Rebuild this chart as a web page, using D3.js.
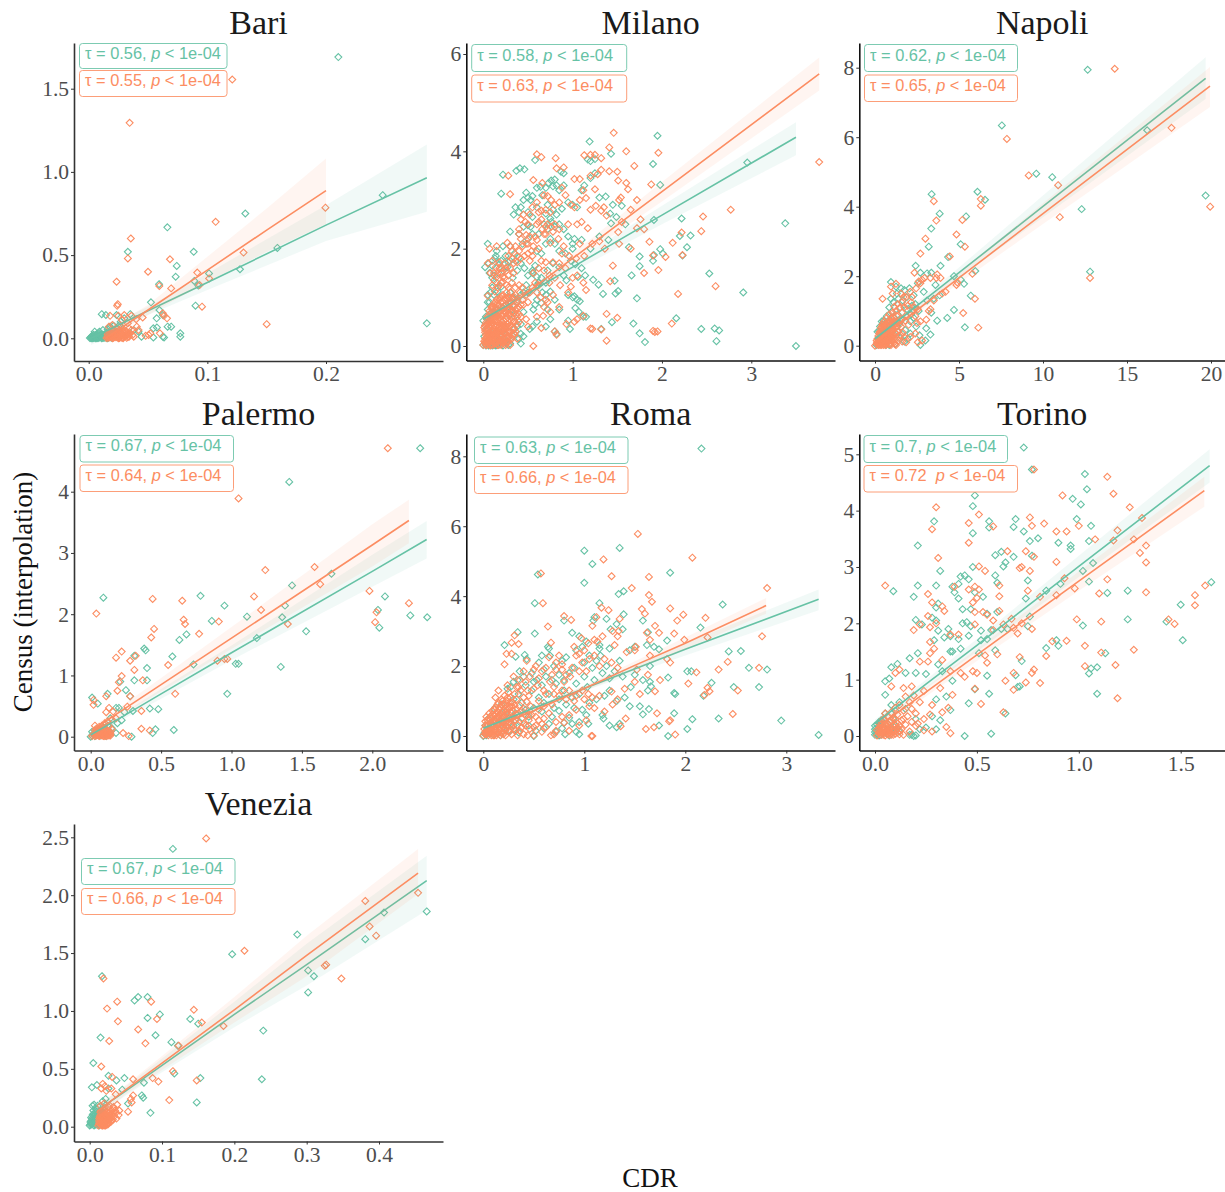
<!DOCTYPE html>
<html>
<head>
<meta charset="utf-8">
<script src="https://cdn.jsdelivr.net/npm/d3@7"></script>
<style>
  html, body { margin: 0; padding: 0; background: #fff; }
  .tick text { font-family: "Liberation Serif", serif; font-size: 21.5px; fill: #4d4d4d; }
  .tick line { stroke: #333; }
</style>
</head>
<body>
<div id="chart"></div>
<script>
const cityNames = ["Bari", "Milano", "Napoli", "Palermo", "Roma", "Torino", "Venezia"]
const tealStats = ["0.56,", "0.58,", "0.62,", "0.67,", "0.63,", "0.7,", "0.67,"]
const orangeStats = ["0.55,", "0.63,", "0.65,", "0.64,", "0.66,", "0.72 ", "0.66,"]

const xTickValues = [[0, .1, .2], [0, 1, 2, 3], [0, 5, 10, 15, 20], [0, .5, 1, 1.5, 2], [0, 1, 2, 3], [0, .5, 1, 1.5], [0, .1, .2, .3, .4]]
const yTickValues = [[0, .5, 1, 1.5], [0, 2, 4, 6], [0, 2, 4, 6, 8], [0, 1, 2, 3, 4], [0, 2, 4, 6, 8], [0, 1, 2, 3, 4, 5], [0, .5, 1, 1.5, 2, 2.5]]

// fitted lines: x, y, band low, band high
const bariTealFit = [[.002,0,-.04,.03],[.05,.165,.14,.19],[.1,.335,.29,.39],[.2,.68,.585,.8],[.285,.965,.76,1.165]]
const bariOrangeFit = [[.014,0,-.01,.05],[.05,.17,.14,.2],[.1,.41,.34,.49],[.15,.65,.52,.78],[.2,.887,.687,1.08]]
const milanoTealFit = [[0,.55,.45,.65],[.5,1.08,1,1.17],[1,1.62,1.52,1.72],[2,2.69,2.5,2.88],[3.5,4.29,3.92,4.6]]
const milanoOrangeFit = [[.02,.45,.35,.55],[.5,1.11,1.03,1.19],[1,1.8,1.7,1.9],[2,3.17,2.97,3.37],[3.76,5.59,5.25,5.93]]
const napoliTealFit = [[0,.2,.12,.28],[2,.96,.88,1.05],[5,2.1,1.95,2.25],[10,4.01,3.7,4.32],[19.68,7.69,7.1,8.3]]
const napoliOrangeFit = [[0,.1,.03,.17],[2,.84,.76,.92],[5,1.95,1.8,2.1],[10,3.8,3.5,4.1],[19.94,7.47,6.87,8.02]]
const palermoTealFit = [[0,.03,0,.07],[.25,.36,.31,.41],[.5,.7,.62,.78],[1,1.37,1.25,1.49],[2,2.7,2.45,2.97],[2.386,3.22,2.91,3.52]]
const palermoOrangeFit = [[.005,.1,.05,.15],[.25,.47,.39,.55],[.5,.85,.74,.96],[1,1.61,1.43,1.79],[2,3.13,2.78,3.47],[2.26,3.53,3.16,3.87]]
const romaTealFit = [[0,.22,.15,.29],[.5,.8,.74,.86],[1,1.36,1.29,1.43],[2,2.48,2.3,2.66],[3.32,3.91,3.6,4.19]]
const romaOrangeFit = [[0,.12,.06,.18],[.5,.72,.66,.78],[1,1.36,1.28,1.44],[1.5,2.02,1.9,2.14],[2,2.65,2.48,2.82],[2.8,3.73,3.5,3.95]]
const torinoTealFit = [[0,.22,.15,.29],[.25,.92,.84,1],[.5,1.61,1.5,1.72],[1,3.01,2.82,3.2],[1.642,4.8,4.5,5.09]]
const torinoOrangeFit = [[.005,.14,.08,.2],[.25,.78,.7,.86],[.5,1.44,1.33,1.55],[1,2.75,2.58,2.92],[1.616,4.355,4.07,4.6]]
const veneziaTealFit = [[.001,.1,.05,.15],[.05,.31,.27,.35],[.1,.53,.47,.59],[.2,.97,.86,1.08],[.3,1.4,1.22,1.58],[.466,2.126,1.87,2.34]]
const veneziaOrangeFit = [[.01,.13,.08,.18],[.05,.32,.28,.36],[.1,.55,.49,.61],[.2,1.01,.9,1.12],[.3,1.48,1.3,1.65],[.454,2.19,2.01,2.4]]

// points
const bariTeal = [[.2104,1.69],[.2478,.86],[.285,.09],[.132,.75],[.159,.543],[.1275,.415],[.0663,.667],[.0885,.52],[.033,.52],[.0742,.435],[.0733,.37],[.1014,.39],[.089,.345],[.0593,.325],[.0924,.317],[.09,.196],[.0525,.216],[.0596,.17],[.0573,.12],[.0625,.14],[.0665,.07],[.0695,.07],[.0772,.03],[.0772,.01],[.0575,.065],[.0545,.06],[.0445,.01],[.0545,.005],[.0625,.01],[.0635,.005],[.011,.145],[.0145,.14],[.0235,.14],[.035,.145],[.03,.12],[.027,.1],[.038,.05],[.042,.04],[.035,.03],
[.001,.002],[.002,.008],[.003,.001],[.004,.012],[.005,.004],[.006,.02],[.007,.008],[.008,.002],[.009,.016],[.01,.006],[.011,.024],[.012,.01],[.013,.003],[.014,.018],[.015,.034],[.016,.008],[.017,.026],[.018,.012],[.019,.004],[.02,.03],[.005,.04],[.009,.04],[.012,.05],[.016,.055],[.003,.016],[.007,.026],[.011,.001],[.015,.002],[.006,.001],[.002,.001],[.004,.022],[.008,.03],[.02,.05],[.022,.02],[.024,.04],[.025,.01],[.018,.07],[.021,.075],[.026,.08],
[.002,.003],[.003,.009],[.004,.002],[.005,.015],[.006,.006],[.007,.001],[.008,.012],[.009,.005],[.01,.018],[.011,.009],[.012,.002],[.013,.02],[.014,.007],[.015,.014],[.016,.001],[.017,.006],[.018,.022]]
const bariOrange = [[.121,1.555],[.0345,1.295],[.0355,.6],[.107,.7],[.1995,.785],[.1305,.515],[.0685,.475],[.033,.48],[.05,.4],[.0915,.395],[.0595,.315],[.0935,.32],[.1015,.36],[.0695,.3],[.0235,.34],[.0955,.19],[.0245,.205],[.024,.195],[.15,.085],[.0625,.15],[.0635,.135],[.066,.12],[.0455,.125],[.036,.135],[.03,.14],[.025,.135],[.018,.135],[.04,.115],[.052,.03],[.0505,.02],[.048,.015],[.06,.03],[.0405,.07],[.038,.01],[.042,.05],[.036,.05],[.033,.09],[.028,.11],[.02,.08],[.017,.07],
[.015,.002],[.016,.012],[.017,.004],[.018,.02],[.019,.008],[.02,.001],[.021,.016],[.022,.03],[.023,.006],[.024,.024],[.025,.012],[.026,.002],[.027,.036],[.028,.018],[.029,.006],[.03,.028],[.031,.014],[.032,.003],[.033,.022],[.034,.01],[.018,.034],[.02,.044],[.022,.05],[.024,.058],[.026,.05],[.028,.064],[.03,.05],[.032,.04],[.034,.06],[.016,.025],[.019,.028],[.023,.04],[.025,.001],[.029,.001],[.035,.03],[.037,.02],
[.016,.005],[.017,.014],[.018,.008],[.019,.018],[.02,.012],[.021,.004],[.022,.012],[.023,.02],[.024,.008],[.025,.03],[.026,.016],[.027,.008],[.028,.004],[.029,.024],[.03,.012],[.031,.03],[.032,.018],[.033,.008],[.034,.03],[.02,.025],[.023,.03],[.026,.036],[.029,.04]]

const milanoTeal = [[3.5,0],[3.38,2.52],[2.955,3.77],[2.91,1.1],[2.53,1.49],[2.44,.35],[2.59,.36],[2.64,.32],[2.61,.1],[2.16,.57],[1.81,.08],[1.75,.26],[1.68,.46],[1.44,.49],[1.32,.35],[1.95,4.32],[1.19,4.2],[1.43,3.95],[1.9,3.74],[1.98,3.31],[2.22,2.62],[1.91,2.59],[2.32,2.27],[2.2,2.26],[2.28,2.03],[1.98,1.99],[2.01,1.9],[2.23,1.86],[1.9,1.75],[1.91,1.87],[1.75,1.84],[1.75,1.64],[1.63,2.03],[1.66,1.45],[1.72,.98],[1.51,1.13],[1.47,1.34],[1.48,1.08],[1.34,1.07],[1.29,1.26],[1.23,1.36],[1.14,1.45],[1.06,1.42],[1.12,.6],
[.22,3.52],[.2,3.13],[.37,3.6],[.41,3.65],[.46,3.63],[.58,3.82],[.73,3.35],[.76,3.4],[.8,3.42],[.82,3.3],[.78,3.28],[.85,3.2],[.9,3.3],[.9,3.55],[.87,3.58],[.7,3.25],[.6,3.25],[.64,3.27],[.48,3.15],[.5,3.05],[.45,3],[.53,3],[.55,3.08],[.36,2.85],[.42,2.85],[.34,2.7],[.3,2.35],[.4,2.3],[.45,2.45],[.5,2.48],[.72,2.9],[.78,2.8],[.82,2.7],[.88,2.82],[.95,2.95],[1,2.9],[1.05,2.85],[1.1,3.2],[1.13,3.3],[1.2,3.45],[1.25,3.55],[1.2,3.8],[1.17,3.83],[1.25,3.84],[1.3,3.05],[1.37,3.07],[1.45,2.9],[1.42,2.72],[1.49,2.65],[1.43,2.52],[1.55,2.88],[1.59,2.5],[1.4,2.18],[1.3,2.25],[1.2,2],[1.02,2.2],[1.1,2.18],[1,2.1],[1,2],[.85,2.5],[.9,2.4],[.8,2.45],[.75,2.2],[.7,2.1],[.65,1.9],[.6,1.95],[.55,2.3],[.53,2.45],[.3,2.05],[.22,2.05],[.25,1.85],
[.05,2.1],[.02,1.62],[.06,1.7],[.07,1.5],[.1,1.65],[.13,1.8],[.15,1.95],[.2,1.75],[.27,1.62],[.3,1.75],[.35,1.9],[.38,1.55],[.42,1.7],[.46,1.6],[.5,1.45],[.55,1.5],[.6,1.42],[.62,1.3],[.66,1.1],[.7,1.05],[.75,1.12],[.8,.95],[.72,.75],[.65,.88],[.6,.95],[.56,.75],[.85,1.62],[.9,1.45],[.93,1.35],[.98,1.75],[1.03,1.68],[1.1,1.6],[.78,1.7],[.72,1.55],[.85,.75],[.95,.52],[.97,.35],[1.07,.7],[1.03,.78],[1.15,.6],[1,1],[.95,1.05],[1.02,1.02],[1.05,.95],[1.08,.92],[.75,.55],[.7,.4],[.8,.3],[.82,.25],[.6,.5],[.55,.4],[.52,.35],[.45,.7],[.42,.25],[.4,.15],[.3,.05],[.42,.05],[.25,.55],[.35,.6],[.38,.4],[.28,.3],[.33,.2],[.2,.12],[.26,.1],[.15,.08],[.12,.02],[.18,.03],
[0,.52],[0,.02],[.01,.2],[.02,.05],[.03,.35],[.04,.1],[.05,.75],[.07,.9],[.09,.6],[.12,1.05],[.16,1.12],[.2,1.22],[.1,1.2],[.15,1.3],[.05,1.05],[.08,.3],[.02,.42],[.03,.01],[.06,.01],[.1,.01],[.14,.01],[.18,.15],[.22,.3],[.27,.45],[.32,.75],[.38,.9],[.42,1.05],[.45,1.1],[.48,1.25],
[.1,1.4],[.14,1.85],[.18,1.68],[.22,1.55],[.28,1.72],[.33,1.4],[.36,1.75],[.4,1.82],[.44,2.1],[.5,2.2],[.58,1.65],[.62,2.3],[.68,2.5],[.72,2.4],[.76,2.55],[.8,2.1],[.85,1.95],[.92,1.9],[.95,2.25],[.55,1.55],[.6,1.25],[.7,1.3],[.65,1.4],[.58,.85],[.5,1.1],[.42,.45],[.35,.35],[.45,.2],[.3,1.1],[.26,.85],[.33,1],[.12,1.45],[.08,1.1],[.05,.9],[.03,.6],[.15,.02],[.22,.01],[.28,.02],[.5,2.75],[.55,2.65],[.6,2.85],[.66,3.1],[.7,2.72],[.75,2.62],[.4,2.75]]
const milanoOrange = [[3.76,3.78],[2.77,2.8],[2.46,2.66],[2.44,2.36],[2.22,2.33],[2.12,2.12],[2.23,1.87],[2.18,1.07],[2.11,.46],[2.6,1.23],[1.95,.3],[1.9,.31],[1.92,.29],[1.38,.11],[1.32,.34],[1.2,.36],[1.5,.58],[1.38,.66],[1.42,1.33],[1.45,1.65],[1.38,2.68],[1.46,4.38],[1.41,4.08],[1.25,3.93],[1.2,3.93],[1.13,3.92],[1.32,3.86],[1.5,3.58],[1.41,3.59],[1.32,3.62],[1.28,3.53],[1.6,4],[1.96,3.97],[1.69,3.7],[1.88,3.32],[1.6,3.35],[1.51,3.4],[1.62,3.22],[1.52,3],[1.54,3.05],[1.72,3],[1.65,2.8],[1.76,2.6],[1.72,2.42],[1.8,2.4],[1.86,2.14],[1.9,1.86],[1.96,1.56],[1.8,1.5],[2.04,1.83],[1.65,2],[1.52,2.1],[1.51,2.34],[1.55,2.55],
[.28,3.5],[.3,3.12],[.6,3.94],[.65,3.88],[.81,3.86],[.82,3.65],[.9,3.67],[.56,3.41],[.66,3.35],[.88,3.25],[1.02,3.43],[1.08,3.43],[1.12,3.2],[1.2,3.5],[1.25,3.22],[1.15,3.04],[1.2,2.8],[1.26,2.88],[1.32,2.78],[1.35,2.85],[1.08,3],[1.02,2.85],[.98,2.9],[.72,3.08],[.68,3.1],[.76,3],[.8,2.9],[.6,2.95],[.55,2.85],[.65,2.78],[.42,2.6],[.47,2.55],[.52,2.7],[.6,2.5],[.62,2.55],[.7,2.45],[.78,2.35],[.85,2.4],[.95,2.5],[1.05,2.5],[1.1,2.55],[1.17,2.42],[1.22,2.1],[1.3,2.15],[1.36,2],[1.08,2.1],[.96,1.85],[1.04,1.8],[1.13,1.85],[.75,2.12],[.68,2.3],[.58,2.25],[.52,2.25],[.48,2.1],[.4,2.3],[.4,2.4],[.27,2.12],[.3,2.05],[.15,2.05],[.07,2],[.05,1.7],[.18,1.6],[.2,1.5],[.25,1.6],[.28,1.45],[.32,1.8],[.34,1.7],[.38,1.85],[.42,1.8],[.5,1.9],[.55,1.85],[.65,1.75],[.7,1.72],[.78,1.72],[.85,1.7],[.92,1.6],[1,1.4],[1.05,1.45],[1.12,1.3],[1.15,1.15],[.98,1.22],
[.78,1.05],[.85,.8],[.75,.7],[.8,.3],[.82,.23],[.67,.62],[.6,.6],[.65,.37],[.56,0],[.93,.45],[1.02,.5],[1.05,.55],[1.12,.62],[1.22,.35],[.5,.9],[.45,.85],[.4,.65],[.38,.45],[.35,.25],[.3,.15],[.26,.05],[.55,1.2],[.6,1.1],[.62,1.25],[.7,.95],[.74,1.3],[.08,1.5],[.12,1.35],[.15,1.42],[.18,1.25],[.22,1.32],[.26,1.25],[.05,1.03],[.1,.8],
[0,.02],[.01,.1],[.02,.28],[.01,.38],[.03,.02],[.03,.15],[.04,.42],[.05,.22],[.05,.6],[.06,.05],[.06,.33],[.07,.12],[.07,.5],[.07,.72],[.08,.25],[.08,.01],[.09,.42],[.09,.62],[.1,.12],[.1,.32],[.1,.75],[.11,.02],[.11,.52],[.12,.22],[.12,.88],[.13,.4],[.13,.65],[.14,.08],[.14,.3],[.14,.78],[.15,.5],[.15,.95],[.16,.18],[.16,.62],[.17,.02],[.17,.38],[.17,.85],[.18,.72],[.18,.28],[.19,.52],[.19,1],[.2,.1],[.2,.42],[.2,.9],[.21,.62],[.21,.22],[.22,.78],[.22,1.05],[.23,.35],[.23,.52],[.24,.95],[.24,.12],[.25,.68],[.25,.42],[.26,.85],[.26,1.1],[.27,.28],[.27,.58],[.28,.75],[.28,1],[.29,.48],[.3,.88],[.3,.62],[.31,.3],[.31,1.1],[.32,.72],[.33,.98],[.34,.5],[.35,.82],[.36,1.05],[.37,.65],[.38,.95],[.4,.8],[.41,1.1],[.44,.95],[.03,.08],[.04,.3],[.05,.45],[.06,.15],[.08,.55],[.09,.2],[.11,.68],[.12,.05],[.13,.15],[.15,.32],[.16,.42],[.18,.12],[.2,.3],[.22,.05],[.24,.28],[.02,.15],[.02,.42],[.04,.02],[.06,.62],[.09,.8],[.12,.42],[.16,.75],[.19,.35],[.23,.65],[.26,.4],
[.1,1.75],[.12,1.5],[.14,1.62],[.16,1.48],[.18,1.72],[.2,1.6],[.22,1.42],[.24,1.7],[.26,1.55],[.28,1.85],[.3,1.6],[.32,1.95],[.34,1.5],[.36,2.05],[.38,1.72],[.4,1.95],[.42,2.2],[.44,2.05],[.46,1.85],[.48,2.28],[.5,2.1],[.52,1.75],[.54,1.95],[.56,2.05],[.6,2.18],[.62,2],[.66,2.4],[.7,2.3],[.72,2.5],[.76,2.45],[.8,2.5],[.84,2.2],[.88,1.9],[.9,2.05],[.1,1.25],[.13,1.12],[.16,1.2],[.2,1.3],[.24,1.4],[.28,1.2],[.32,1.3],[.36,1.2],[.4,1.25],[.44,1.2],[.48,1.05],[.52,1.1],[.58,1.3],[.64,1],[.68,.8],[.72,.9],[.42,.6],[.48,.55],[.5,.4],[.3,.2],[.34,.35],[.38,.15],[.56,1.5],[.62,1.6],[.68,1.55],[.74,1.45],[.8,1.4],[.86,1.25],[.95,1.1],[.65,2.6],[.7,2.8],[.75,2.75],[.62,2.75],[.5,2.5],[.45,2.7],[.85,2.95],[.92,3.1],
[.02,.08],[.02,.33],[.03,.22],[.03,.48],[.04,.12],[.04,.55],[.05,.08],[.05,.32],[.06,.25],[.06,.48],[.07,.02],[.07,.2],[.07,.38],[.08,.12],[.08,.45],[.08,.68],[.09,.05],[.09,.3],[.1,.2],[.1,.48],[.1,.62],[.11,.12],[.11,.35],[.11,.8],[.12,.3],[.12,.6],[.12,.72],[.13,.05],[.13,.25],[.13,.52],[.14,.18],[.14,.4],[.14,.6],[.14,.9],[.15,.1],[.15,.25],[.15,.72],[.16,.02],[.16,.3],[.16,.52],[.16,.88],[.17,.15],[.17,.28],[.17,.7],[.18,.05],[.18,.4],[.18,.58],[.18,.95],[.19,.22],[.19,.8],[.2,.02],[.2,.2],[.2,.62],[.2,.75],[.21,.35],[.21,.5],[.21,1.02],[.22,.15],[.22,.42],[.22,.62],[.23,.08],[.23,.25],[.23,.82],[.24,.4],[.24,.72],[.25,.02],[.25,.25],[.25,.55],[.25,1],[.26,.18],[.26,.62],[.27,.08],[.27,.45],[.27,.75],[.27,.95],[.28,.18],[.28,.4],[.28,.88],[.29,.28],[.29,.65],[.3,.02],[.3,.42],[.3,.75],[.3,1],[.31,.52],[.31,.9],[.32,.15],[.32,.6],[.33,.35],[.33,.82],[.34,.25],[.34,.68],[.35,.5],[.35,1],[.36,.3],[.36,.75],[.38,.6],[.38,.78],[.4,.5],[.42,.85]]

const napoliTeal = [[12.66,7.94],[7.55,6.34],[16.2,6.2],[19.68,4.32],[12.3,3.93],[12.8,2.13],[9.6,4.95],[10.55,4.85],[6.1,4.43],[6.55,4.2],[3.37,4.36],[3.85,3.8],[5.42,3.72],[3.35,3.37],[5.1,2.92],[3.2,2.85],[4.35,2.55],[3.9,2.3],[2.42,2.3],[3.35,2.1],[3.1,2.08],[2.7,2.1],[5.97,2.15],[5.3,1.78],[5.1,1.9],[4.7,2],[5.7,1.44],[4.7,1.03],[4.3,.8],[5.35,.53],[3.7,.72],[3.35,.95],[3.3,.32],[3.05,.5],[3,.15],[2.65,.3],[2.7,.02],[2.3,.8],[3.85,1.45],[3.6,1.75],[3.5,1.35],[3.1,1.3],[2.9,1.55],[2.55,1.8],
[.95,1.83],[1.3,1.5],[.95,1.35],[1.75,1.6],[2.05,1.65],[2.3,1.45],[1.5,1.1],[1.9,1.05],[2.2,1.15],[2.6,1],[2.1,.7],[1.6,.75],[1.3,.55],[1.8,.45],[2.1,.35],[1.5,.22],[1.75,.12],[1.2,.05],[.85,.02],[.5,.72],[.3,.55],[.7,.85],[1,.98],[.1,.02],[.2,.2],[.35,.05],[.5,.3],[.65,.02],[.8,.15],[.95,.3],[.15,.4],[.45,.6],[.25,.1],[.6,.5],[.75,.38],[.9,.6],[1.05,.42],[1.15,.8],[1.35,.9],[1.45,.65],
[1.1,1.25],[1.4,1.35],[1.65,1.3],[1.9,1.4],[2.4,1.2],[.85,1.1],[1.25,1.7],[1.55,1.65],[2.15,.9],[2.45,.55],[1.95,.2],[1.4,.4],[.55,.15],[.25,.4],[.4,.7],[.75,.7]]
const napoliOrange = [[14.27,7.97],[17.65,6.27],[7.85,5.95],[9.15,4.9],[10.9,4.62],[6.3,4.22],[3.5,4.16],[6.3,4.03],[11,3.7],[19.95,4],[3.65,3.6],[5.2,3.62],[4.85,3.2],[3,3.08],[5.35,2.85],[2.7,2.65],[4.45,2.57],[12.8,1.95],[5.8,2.07],[4.9,1.82],[4.85,1.75],[5.95,1.35],[5.25,.94],[6.15,.52],[3.7,2.05],[3.65,1.95],[3.9,1.95],[3.3,1.95],[2.95,1.95],[2.35,2.1],[2.8,1.9],[2.7,1.8],[4.2,1.55],[4,1.5],[3.5,1.3],[3.3,1.05],[3.05,.75],[3.2,1],[2.7,.7],[2.5,.65],[2.4,.35],[2.55,.1],[2.8,.15],[.45,1.35],[.95,1.7],[1.25,1.78],[1.55,1.5],[1.05,1.5],[1.85,1.4],[2.1,1.55],[2.45,1.65],[2.6,1.85],[2.15,1.25],[1.35,1.2],[1.75,1.1],[1.9,.85],[2.25,1],[2.55,1.05],[1.6,.95],[1.25,1],[1.5,.72],[2,.6],[1.2,.38],[1.75,.25],[1.65,.38],[1.85,.1],[1.25,.02],[2.1,.25],
[0,0],[.1,.05],[.15,.2],[.2,.02],[.25,.35],[.3,.12],[.35,.5],[.4,.02],[.4,.25],[.45,.62],[.5,.1],[.5,.4],[.55,.7],[.6,.2],[.6,.5],[.65,.02],[.65,.32],[.7,.6],[.7,.8],[.75,.12],[.75,.42],[.8,.7],[.85,.25],[.85,.9],[.9,.05],[.9,.5],[.95,.35],[.95,.78],[1,.15],[1,.62],[1.05,.45],[1.05,.95],[1.1,.28],[1.15,.7],[1.2,.18],[1.25,.55],[1.3,.85],[1.35,.4],[1.45,.6],[1.55,.3],[.2,.28],[.3,.4],[.4,.55],[.55,.05],[.7,.22],[.8,.35],[.95,.02],[1.1,.82],[.25,.15],[.35,.2],[.45,.35],[.6,.62],[.85,.55],[1,.42],
[1.15,1.12],[1.45,1.08],[1.6,1.25],[1.7,1.4],[1.95,1.15],[2.2,1.4],[2.35,1.1],[2.4,.85],[1.8,.72],[1.55,.55],[1.3,.68],[1.05,.7],[.9,.3],[.75,.55],[.55,.42],[.45,.15],[.3,.02],[.62,.12],[.82,.05],[1.1,.08],[1.4,.15],[1.62,.12],[.1,.15],[.2,.12],[.35,.32],[.5,.55],
[.12,.1],[.18,.06],[.22,.18],[.28,.25],[.32,.05],[.38,.12],[.42,.42],[.48,.22],[.52,.02],[.58,.3],[.62,.42],[.68,.08],[.72,.48],[.78,.28],[.82,.45],[.88,.15],[.92,.68],[.98,.25],[1.02,.55],[1.08,.18],[1.12,.48],[1.18,.05],[1.22,.35],[1.28,.22],[.28,.08],[.38,.38],[.5,.22],[.6,.05],[.7,.38],[.8,.52],[.9,.18],[1,.28],[1.1,.6],[1.2,.62],[.4,.12],[.52,.5],[.65,.58],[.78,.62],[.9,.42]]

const palermoTeal = [[2.34,4.71],[1.41,4.16],[.09,2.27],[.78,2.3],[.95,2.14],[2.09,2.29],[1.43,2.47],[1.71,2.66],[1.38,2.14],[1.36,1.95],[1.11,1.96],[.86,1.89],[.68,1.67],[.63,1.58],[1.18,1.61],[1.53,1.72],[2.04,2.07],[2.27,1.98],[2.39,1.95],[2.05,1.78],[.38,1.44],[.39,1.41],[.58,1.31],[.31,1.32],[.73,1.18],[1.03,1.19],[1.05,1.19],[1.35,1.14],[.4,1.12],[.31,.92],[.4,.92],[.21,.9],[.97,.7],[.25,.76],[.12,.7],[.01,.64],[.05,.54],[.28,.66],[.42,.46],[.48,.45],[.3,.42],[.2,.47],[.18,.47],[.24,.4],[.22,.27],[.19,.22],[.14,.3],[.59,.11],[.46,.12],[.44,.06],[.29,0],[.18,.06],
[0,0],[.01,.02],[.02,.05],[.03,.01],[.04,.08],[.05,.03],[.06,.12],[.07,.02],[.08,.07],[.09,.15],[.1,.03],[.12,.18],[.13,.08],[.15,.14],[.11,.01],[.01,.08],[.03,.1]]
const palermoOrange = [[2.11,4.71],[1.05,3.89],[1.59,2.77],[1.24,2.72],[1.63,2.49],[.44,2.25],[.65,2.22],[1.16,2.29],[1.98,2.38],[2.26,2.18],[2.03,2.03],[.04,2.01],[1.21,2.07],[.66,1.91],[.67,1.84],[.91,1.88],[1.4,1.84],[2.02,1.87],[.45,1.76],[.77,1.68],[.43,1.62],[.22,1.39],[.32,1.32],[.18,1.29],[.28,1.24],[.55,1.17],[.9,1.24],[.95,1.27],[.97,1.27],[.31,1.09],[.22,.99],[.37,.92],[.2,.89],[.19,.75],[.28,.66],[.11,.66],[.6,.7],[.02,.6],[.02,.52],[.26,.49],[.13,.47],[.11,.4],[.16,.41],[.36,.42],[.18,.3],[.15,.28],[.36,.13],[.42,.1],[.23,.06],[.27,.01],[.03,.18],
[.01,.01],[.02,.03],[.03,.01],[.03,.06],[.04,.02],[.05,.09],[.05,.03],[.06,.01],[.07,.06],[.07,.12],[.08,.02],[.09,.08],[.09,.01],[.1,.04],[.1,.14],[.11,.07],[.12,.02],[.12,.1],[.13,.05],[.13,.17],[.14,.02],[.14,.08],[.15,.12],[.04,.13],[.06,.16],[.08,.18],[.1,.22],[.12,.25],[.03,.04],[.06,.05],[.08,.1],[.11,.01],
[.05,.06],[.06,.09],[.07,.03],[.08,.05],[.09,.04],[.1,.09],[.11,.12],[.12,.05],[.13,.02],[.14,.05],[.04,.04],[.06,.02],[.08,.13],[.1,.01]]

const romaTeal = [[2.16,8.22],[1,5.3],[1.08,4.92],[1.35,5.38],[.54,4.62],[1,4.38],[1.85,4.67],[1.34,4.06],[1.39,4.14],[.51,3.8],[1.15,3.8],[2.37,3.76],[1.39,3.48],[1.1,3.4],[1.09,3.3],[.8,3.3],[1.22,3.35],[1.32,3.2],[1.26,3.05],[1.38,3.05],[1.58,3.3],[1.63,2.97],[2.15,3.1],[1.82,2.73],[.34,2.97],[.51,2.93],[.88,2.95],[.95,2.85],[.21,2.6],[.32,2.27],[.41,2.32],[.64,2.55],[.65,2.5],[1.02,2.7],[1.15,2.5],[1.15,2.6],[1.25,2.5],[1.16,2.3],[1.5,2.55],[1.45,2.45],[1.35,2.15],[1.62,2.6],[1.69,2.55],[1.74,2.48],[2.43,2.42],[2.55,2.43],[2.63,1.95],[2.81,1.9],[2.02,1.85],[2.06,1.85],[2.26,1.52],[2.48,1.4],[2.73,1.4],[1.89,1.23],[1.9,1.2],[2.18,1.15],[1.66,1.42],[1.63,1.3],[1.58,1.6],[1.83,1.67],[1.65,2],[1.65,1.55],[2.33,.5],[2.95,.44],[3.32,.03],[2.07,.48],[2.02,.2],[1.83,0],[1.89,.65],[1.74,.3],[1.64,.77],[1.58,.62],[1.55,.85],[1.45,.85],[1.35,.35],[1.32,.25],[1.25,.3],[1.19,.5],[1.18,.6],[.95,.05],[.92,.12],[.81,.05],[1.04,.35],
[.11,.78],[.18,.9],[.24,1.35],[.27,1.4],[.34,1.6],[.43,2.2],[.55,2.1],[.6,1.9],[.7,2],[.48,1.8],[.53,1.6],[.62,1.7],[.72,1.5],[.8,1.6],[.85,1.8],[.9,1.95],[1,2.1],[1.08,1.95],[1.1,1.6],[1.03,1.4],[.95,1.2],[.88,1.1],[.8,1.3],[.75,1.05],[.65,1.2],[.55,1.1],[.48,1.3],[.42,1.45],[.38,.95],[.32,.65],[.45,.55],[.58,.7],[.68,.55],[.75,.72],[.85,.52],[.88,.35],[.95,.4],[1.02,.6],[1.2,1.15],[1.25,1.3],[1.32,1],[1.4,1.1],[1.46,1.4],[.2,.4],[.26,.15],[.5,0],[.6,.22],[.72,.12],[.8,.38],
[0,0],[.01,.08],[.02,.3],[.03,.02],[.04,.18],[.05,.5],[.06,.08],[.08,.3],[.1,.03],[.12,.15],[.15,.55],[.17,.02],[.2,.25],[.22,.7],[.25,.5],[.3,.3],[.35,.1],
[.58,2.3],[.66,2.3],[.78,2.15],[.82,2.25],[.92,2.45],[.98,2.55],[1.05,2.3],[1.12,2.15],[1.22,2],[1.3,1.85],[1.38,1.7],[1.5,1.75],[1.12,1.05],[1.05,.95],[.98,.75],[.9,.8],[.82,.9],[.7,.8],[.6,.95],[.5,.8],[.42,.75],[.35,1.2],[.3,1.05],[.28,.5],[.36,.4],[.45,.3],[.52,.15],[.65,.35],[.78,.22],[.68,1.6],[.75,1.75],[.58,1.45],[.5,1.55],[.4,1.7],[.36,1.85],[.3,1.55],[.92,1.5],[1,1.7],[1.18,1.8],[1.25,1.65]]
const romaOrange = [[1.53,5.78],[2.07,5.1],[1.19,5.05],[.57,4.65],[1.27,4.57],[1.64,4.55],[2.81,4.23],[1.47,4.23],[1.64,4.03],[.59,3.8],[1.67,3.84],[1.17,3.67],[1.24,3.6],[1.57,3.63],[1.6,3.5],[1.85,3.65],[1.98,3.47],[1.92,3.3],[2.2,3.38],[.8,3.43],[.87,3.32],[1.12,3.4],[1.08,3.15],[.64,3.13],[1.7,3.15],[1.35,3.35],[1.62,2.95],[1.74,2.95],[1.89,2.93],[1.65,2.75],[2.76,2.85],[2.22,2.82],[1.99,2.75],[1.28,3],[1.34,3],[1.33,2.85],[1.18,2.85],[1.1,2.75],[.67,2.67],[.97,2.8],[.31,2.88],[.28,2.67],[.35,2.63],[.23,2.35],[1.13,2.7],[1.04,2.65],[1.3,2.6],[1.5,2.45],[1.42,2.4],[1.51,2.55],[1.82,2.2],[1.85,2.1],[2.03,1.5],[2.11,1.82],[2.42,2.12],[2.33,1.9],[2.73,1.95],[2.52,1.3],[2.22,1.38],[2.24,1.28],[2.19,1.17],[1.65,2.3],[1.63,1.75],[1.75,1.6],[1.7,1.28],[1.5,1.55],[1.52,1.9],[1.55,1.2],[1.33,1.05],[1.4,1.35],[1.27,1.27],[1.08,1.1],[1.15,1.15],[2.47,.63],[1.72,.65],[1.85,.45],[1.84,.42],[1.9,.04],[1.61,.2],[1.69,.25],[1.36,.28],[1.41,.5],[1.2,.7],[1.28,.9],[1.1,.8],[1.05,.85],[1.08,0],[1.07,0],[.1,.02],
[.28,2.35],[.21,2.05],[.43,2.15],[.5,1.9],[.55,1.65],[.65,2.25],[.72,2.1],[.75,2.3],[.78,1.9],[.86,1.7],[.9,2.55],[.95,2.35],[1,2.45],[1.05,2.2],[1.15,2],[.95,1.85],[.8,1.55],[.7,1.4],[.62,1.2],[.5,1.35],[.42,1.55],[.35,1.4],[.4,1.1],[.47,.85],[.55,.75],[.6,.5],[.68,.9],[.75,1.15],[.85,1.3],[.92,1.15],[1,1.05],[.85,.6],[.92,.75],[.8,.38],[.72,.15],[.67,.02],[.58,.12],[.5,.25],[.45,.45],[.38,.25],[.3,.55],[.28,.85],
[0,.02],[.01,.2],[.02,.05],[.02,.42],[.03,.12],[.03,.55],[.04,.3],[.05,.02],[.05,.18],[.06,.45],[.06,.65],[.07,.08],[.08,.28],[.08,.52],[.09,.72],[.1,.15],[.1,.4],[.11,.02],[.11,.6],[.12,.82],[.13,.25],[.13,.5],[.14,.08],[.14,.7],[.15,.35],[.15,.95],[.16,.18],[.16,.6],[.17,.02],[.17,.45],[.17,.82],[.18,.3],[.18,1.05],[.19,.68],[.19,.12],[.2,.52],[.2,.92],[.21,.22],[.21,1.15],[.22,.02],[.22,.78],[.23,.4],[.23,1],[.24,.6],[.25,.15],[.25,1.25],[.26,.85],[.27,.35],[.27,1.1],[.28,.05],[.28,.65],[.29,.95],[.3,.2],[.31,1.2],[.32,.45],[.32,.75],[.33,1.05],[.34,.02],[.35,.65],[.36,.88],[.37,1.3],[.38,.5],[.4,.78],[.42,.3],[.43,.98],[.44,.02],[.45,1.15],[.48,.6],[.5,.02],[.52,.3],[.55,1],[.58,.35],
[.4,1.85],[.46,1.7],[.52,2],[.58,1.85],[.62,1.95],[.68,1.75],[.72,1.9],[.78,2.05],[.82,1.75],[.88,1.95],[.92,2.3],[.98,2.1],[1.02,1.85],[1.1,2.3],[1.2,2.2],[1.27,2.1],[1.33,1.95],[.3,1.7],[.36,1.6],[.44,1.3],[.54,1.45],[.6,1.3],[.66,1.55],[.7,1.2],[.78,1.3],[.82,1.05],[.9,1],[.98,1.3],[1.04,1.2],[.15,1.3],[.12,1.1],[.24,1.45],[.33,1.4],[.45,.62],[.52,.55],[.6,.85],[.65,.65],[.72,.4],[.78,.55],[.85,.15],[.95,.3],[1.02,.45],[.62,.25],[.7,.05],[.32,.15],[.4,.05],[.46,.2],[.55,.45],
[.02,.12],[.02,.3],[.03,.05],[.04,.15],[.04,.45],[.05,.32],[.06,.1],[.06,.25],[.07,.38],[.07,.55],[.08,.02],[.08,.18],[.09,.35],[.09,.62],[.1,.08],[.1,.28],[.11,.48],[.11,.75],[.12,.18],[.12,.4],[.13,.02],[.13,.62],[.14,.3],[.14,.9],[.15,.12],[.15,.5],[.16,.78],[.16,.35],[.17,.25],[.17,.65],[.18,.08],[.18,.52],[.18,.88],[.19,.4],[.19,1],[.2,.05],[.2,.72],[.21,.32],[.21,.58],[.22,.15],[.22,.9],[.23,.5],[.23,.68],[.24,.25],[.24,1.1],[.25,.4],[.25,.78],[.26,.12],[.26,.55],[.27,.95],[.28,.28],[.29,.72],[.3,.42],[.31,.88],[.33,.6],[.34,.32],[.36,.15],[.38,.72],[.4,.35],[.42,.6]]

const torinoTeal = [[.73,5.12],[.77,4.73],[1.03,4.65],[1.04,4.38],[.49,4.27],[.97,4.21],[1.01,4.11],[.48,4.08],[.29,3.81],[.56,3.81],[.69,3.85],[.56,3.7],[.68,3.71],[.73,3.63],[.48,3.6],[.99,3.85],[1.06,3.73],[1.05,3.46],[.21,3.38],[.76,3.46],[.8,3.51],[.9,3.43],[.96,3.38],[.96,3.32],[.77,3.2],[.59,3.21],[.62,3.27],[.68,3.18],[.32,2.93],[.48,3],[.64,3.08],[.63,3.01],[.59,2.85],[.6,2.72],[1.07,3.07],[1.02,2.93],[.75,2.76],[1.05,2.74],[.42,2.83],[.44,2.85],[.46,2.78],[.41,2.7],[.38,2.65],[.21,2.67],[.3,2.67],[.09,2.57],[.19,2.47],[.39,2.55],[.41,2.44],[.49,2.55],[.53,2.47],[.74,2.44],[.84,2.58],[.91,2.7],[1.24,2.58],[1.14,2.54],[1.65,2.73],[1.5,2.33],[1.43,2.03],[1.51,1.7],[1.24,2.07],[1.02,1.96],[.3,2.28],[.31,2.35],[.28,2.1],[.2,2.06],[.23,1.98],[.3,2.05],[.36,1.9],[.43,2],[.45,2.02],[.47,1.95],[.43,2.25],[.47,2.25],[.55,2.17],[.6,2.2],[.31,1.87],[.34,1.75],[.37,1.77],[.41,1.72],[.46,1.78],[.52,1.87],[.57,1.88],[.62,1.9],[.65,1.9],[.55,1.72],[.52,1.7],[.76,2.12],[.75,1.95],[.29,1.7],[.21,1.47],[.17,1.38],[.37,1.5],[.38,1.5],[.42,1.55],[.51,1.47],[.59,1.52],[.84,1.56],[.9,1.6],[.89,1.7],[1.13,1.47],[1.09,1.22],[1.06,1.2],[1.05,1.11],[1.09,.75],[.71,.88],[.7,.87],[.72,1.33],[.69,1.08],[.55,1.07],[.56,.75],[.49,.83],[.46,.58],[.64,.4],[.57,.04],[.44,0],
[.05,.73],[.05,.97],[.07,1.02],[.08,1.22],[.11,1.28],[.15,1.12],[.2,1.12],[.25,1.1],[.31,1.27],[.33,1.15],[.38,.98],[.3,.65],[.35,.7],[.37,.46],[.32,.28],[.25,.15],[.22,.12],[.18,.02],[.17,.02],[.19,0],[.2,.01],[.3,.12],[.28,.35],[.2,.3],[.15,.48],[.12,.6],[.1,.45],[.08,.55],[.05,.4],[.02,.25],
[0,.02],[0,.12],[.01,.2],[.01,.05],[.02,.01],[.02,.12],[.03,.28],[.03,.02],[.04,.15],[.05,.06],[.06,.22],[.07,.01],[.08,.12],[.09,.3],[.1,.18],[.12,.08],[0,.07],[0,.18],[.01,.12],[.01,.02],[.02,.18],[.03,.08],[.04,.05]]
const torinoOrange = [[.05,2.67],[.78,4.73],[1.14,4.6],[1.17,4.3],[.92,4.27],[.3,4.06],[1.25,4.06],[1.31,3.87],[.76,3.88],[.77,3.73],[.83,3.77],[.51,3.93],[.46,3.78],[.58,3.72],[.28,3.67],[.89,3.63],[.94,3.63],[1,3.73],[1.19,3.65],[1.17,3.47],[1.08,3.49],[1.27,3.49],[1.33,3.38],[.46,3.43],[.65,3.28],[.74,3.28],[.78,3.18],[.31,3.16],[.51,3.01],[.71,2.98],[.72,3],[.89,3.09],[.76,2.93],[.54,2.93],[1.3,3.25],[1.33,3.08],[.93,2.8],[.98,2.62],[1.14,2.78],[1.1,2.53],[1.33,2.55],[.39,2.65],[.49,2.65],[.51,2.6],[.46,2.6],[.61,2.67],[.75,2.58],[.61,2.48],[.81,2.47],[.89,2.5],[1.57,2.5],[1.62,2.67],[1.57,2.32],[.26,2.52],[.28,2.37],[.33,2.3],[.34,2.22],[.48,2.37],[.5,2.45],[.53,2.2],[.55,2.15],[.61,2.22],[.58,2.05],[.26,2.13],[.3,2],[.22,1.98],[.19,1.88],[.27,1.93],[.37,1.8],[.41,1.8],[.49,1.98],[.49,2.2],[.58,1.88],[.63,1.98],[.67,2.08],[.72,2],[.77,1.9],[.68,1.92],[.7,1.82],[.99,2.07],[1.11,2.03],[1.44,2.07],[1.47,1.99],[.87,1.68],[.94,1.69],[1.27,1.53],[1.03,1.6],[1.11,1.48],[.84,1.42],[.71,1.4],[.6,1.45],[.54,1.43],[.55,1.3],[.5,1.12],[.27,1.67],[.29,1.55],[.27,1.47],[.26,1.32],[.22,1.32],[.33,1.35],[.37,1.15],[.42,1.12],[.44,1.05],[.48,1.15],[.68,1.12],[.77,1.12],[.78,1.18],[.81,.94],[.74,.95],[.64,.98],[.68,.82],[1.19,.67],[1.03,1.24],[1.18,1.26],[.49,.84],[.52,.57],[.38,.73],[.63,.42],[.14,.85],[.08,.88],[.12,1.18],[.1,1.12],[.18,.88],[.24,.8],[.32,.85],[.28,.55],[.36,.5],[.33,.42],[.27,.38],[.24,.3],[.35,.16],[.28,.08],[.37,.05],[.21,.22],[.24,.1],
[.01,.01],[.02,.08],[.02,.22],[.03,.02],[.03,.14],[.04,.3],[.04,.06],[.05,.2],[.05,.01],[.06,.12],[.06,.35],[.07,.05],[.07,.25],[.08,.42],[.08,.15],[.09,.02],[.09,.32],[.1,.5],[.1,.1],[.11,.22],[.11,.38],[.12,.03],[.12,.55],[.13,.28],[.13,.12],[.14,.45],[.14,.02],[.15,.7],[.15,.2],[.16,.35],[.17,.6],[.17,.08],[.18,.25],[.18,.48],[.19,.72],[.2,.18],[.2,.4],[.22,.6],[.01,.1],[.03,.25],[.05,.4],[.06,.03],[.08,.05],[.1,.3],[.12,.18],[.14,.3],[.04,.14],[.07,.12],[.09,.18],[.11,.06],
[.02,.04],[.02,.14],[.03,.08],[.03,.2],[.04,.02],[.04,.1],[.05,.06],[.05,.14],[.05,.28],[.06,.08],[.06,.18],[.07,.02],[.07,.18],[.08,.02],[.08,.1],[.08,.28],[.09,.08],[.09,.12],[.1,.04],[.1,.2],[.11,.14],[.12,.1]]

const veneziaTeal = [[.115,2.4],[.466,1.86],[.407,1.85],[.381,1.62],[.287,1.66],[.197,1.49],[.302,1.35],[.31,1.3],[.302,1.16],[.017,1.3],[.08,1.12],[.067,1.12],[.062,1.09],[.097,.97],[.08,.94],[.139,.93],[.15,.89],[.24,.83],[.015,.77],[.091,.79],[.113,.73],[.122,.7],[.005,.55],[.153,.42],[.238,.41],[.117,.46],[.026,.44],[.048,.42],[.037,.4],[.075,.38],[.01,.36],[.003,.34],[.045,.32],[.026,.33],[.072,.27],[.074,.25],[.053,.2],[.148,.21],[.084,.12],[.022,.24],[.018,.22],[.006,.19],[.004,.18],[.01,.15],[.016,.12],
[.0,.01],[.001,.04],[.002,.08],[.003,.02],[.004,.06],[.005,.11],[.006,.01],[.007,.04],[.008,.08],[.009,.13],[.01,.02],[.011,.06],[.012,.1],[.013,.01],[.014,.04],[.015,.08],[.016,.14],[.017,.02],[.018,.06],[.019,.1],[.002,.03],[.004,.1],[.006,.07],[.008,.02],[.01,.1],[.012,.04],[.014,.12],[.016,.05],
[.001,.02],[.002,.05],[.003,.07],[.004,.03],[.005,.05],[.006,.09],[.007,.02],[.008,.05],[.009,.03],[.01,.07],[.011,.12],[.012,.02],[.013,.07],[.014,.02],[.015,.05],[.016,.09],[.017,.04],[.018,.12],[.005,.14],[.008,.16],[.011,.18]]
const veneziaOrange = [[.161,2.49],[.214,1.52],[.454,2.02],[.381,1.95],[.387,1.73],[.396,1.65],[.325,1.39],[.327,1.4],[.348,1.28],[.019,1.28],[.038,1.08],[.085,1.08],[.024,1.02],[.144,1.01],[.039,.91],[.093,.93],[.155,.9],[.067,.84],[.185,.87],[.077,.72],[.027,.74],[.123,.7],[.016,.52],[.115,.48],[.031,.43],[.06,.41],[.087,.42],[.095,.39],[.148,.4],[.018,.37],[.021,.35],[.016,.33],[.023,.31],[.03,.33],[.036,.28],[.06,.27],[.057,.24],[.11,.23],[.058,.21],[.053,.13],[.038,.19],[.015,.18],[.02,.2],[.035,.14],[.04,.1],[.041,.14],
[.012,.01],[.013,.05],[.014,.09],[.015,.02],[.016,.12],[.017,.05],[.018,.01],[.019,.08],[.02,.14],[.021,.03],[.022,.1],[.023,.06],[.024,.16],[.025,.02],[.026,.12],[.027,.07],[.028,.18],[.029,.04],[.03,.1],[.031,.14],[.032,.06],[.033,.17],[.034,.09],[.036,.12],[.037,.07],[.013,.03],[.015,.07],[.017,.11],[.019,.04],[.021,.07],[.023,.02],[.025,.08],[.027,.12],[.016,.02],[.02,.01],[.024,.05],
[.013,.07],[.014,.02],[.015,.1],[.016,.05],[.017,.08],[.018,.03],[.019,.12],[.02,.06],[.021,.1],[.022,.04],[.023,.13],[.024,.09],[.025,.05],[.026,.03],[.027,.1],[.028,.06],[.029,.13],[.03,.05],[.014,.13],[.017,.01],[.02,.16],[.022,.01],[.026,.17],[.03,.08],[.032,.12]]

const tealPoints = [bariTeal, milanoTeal, napoliTeal, palermoTeal, romaTeal, torinoTeal, veneziaTeal]
const orangePoints = [bariOrange, milanoOrange, napoliOrange, palermoOrange, romaOrange, torinoOrange, veneziaOrange]
const tealFits = [bariTealFit, milanoTealFit, napoliTealFit, palermoTealFit, romaTealFit, torinoTealFit, veneziaTealFit]
const orangeFits = [bariOrangeFit, milanoOrangeFit, napoliOrangeFit, palermoOrangeFit, romaOrangeFit, torinoOrangeFit, veneziaOrangeFit]

const width = 1225, height = 1192
const TEAL = "#66c2a5", ORANGE = "#fc8d62"

// panel frame in page px, and where the first and last tick sit
const layout = [
  {l: 74, r: 443, t: 43, b: 361, x0: 88.7, x1: 326, y0: 338.3, y1: 88.7, titleY: 34, boxL: 79.5, boxW: 147.5, teal: [43.5, 25], orange: [70.5, 26], axis: "#333"},
  {l: 466.3, r: 835, t: 43, b: 360.5, x0: 483.3, x1: 751.3, y0: 346, y1: 54, titleY: 34, boxL: 471.7, boxW: 155, teal: [44.5, 27], orange: [75, 27], axis: "#111"},
  {l: 859.3, r: 1225, t: 43, b: 360.5, x0: 875, x1: 1211, y0: 345.7, y1: 67.7, titleY: 34, boxL: 864.5, boxW: 153, teal: [44.5, 27], orange: [75, 26.5], axis: "#111"},
  {l: 74, r: 443, t: 434, b: 750.5, x0: 90.7, x1: 372.3, y0: 736.7, y1: 491.7, titleY: 425, boxL: 80, boxW: 153.5, teal: [435.5, 26.5], orange: [465, 26.5], axis: "#333"},
  {l: 466.3, r: 835, t: 434, b: 750.5, x0: 483.3, x1: 786.3, y0: 736, y1: 456.3, titleY: 425, boxL: 474.5, boxW: 153.5, teal: [437, 26.5], orange: [466.5, 27], axis: "#111"},
  {l: 859.3, r: 1225, t: 434, b: 750.5, x0: 875, x1: 1180.7, y0: 736, y1: 454.3, titleY: 425, boxL: 864, boxW: 143.5, teal: [435.5, 27], orange: [465.5, 26.5], orangeW: 153.5, axis: "#111"},
  {l: 74, r: 443, t: 824, b: 1141.5, x0: 89.7, x1: 379, y0: 1126.7, y1: 837.3, titleY: 815, boxL: 81.5, boxW: 153.5, teal: [858.5, 26], orange: [888.5, 26], axis: "#333"}
]

const diamond = {
  draw(ctx, size) {
    const r = Math.sqrt(size / 2)
    ctx.moveTo(0, -r); ctx.lineTo(r, 0); ctx.lineTo(0, r); ctx.lineTo(-r, 0); ctx.closePath()
  }
}
const symbolPath = d3.symbol().type(diamond).size(24)

const svg = d3.select("#chart").append("svg")
  .attr("width", width)
  .attr("height", height)
  .style("display", "block")

cityNames.forEach((name, i) => {
  const p = layout[i]
  const xTicks = xTickValues[i], yTicks = yTickValues[i]

  // calibrate on the tick positions, then stretch to the whole frame
  const xBase = d3.scaleLinear().domain([xTicks[0], xTicks[xTicks.length - 1]]).range([p.x0, p.x1])
  const yBase = d3.scaleLinear().domain([yTicks[0], yTicks[yTicks.length - 1]]).range([p.y0, p.y1])
  const x = d3.scaleLinear().domain([xBase.invert(p.l), xBase.invert(p.r)]).range([p.l, p.r])
  const y = d3.scaleLinear().domain([yBase.invert(p.b), yBase.invert(p.t)]).range([p.b, p.t])

  const g = svg.append("g").attr("class", "panel")

  const decimals = xTicks.some(v => v % 1 !== 0) ? ".1f" : "d"
  const yDecimals = yTicks.some(v => v % 1 !== 0) ? ".1f" : "d"

  const drawSeries = (pts, colour) => {
    g.append("g").selectAll("path")
      .data(pts)
      .join("path")
      .attr("d", symbolPath)
      .attr("transform", d => `translate(${x(d[0])},${y(d[1])})`)
      .attr("fill", "none")
      .attr("stroke", colour)
      .attr("stroke-width", 1.1)
  }
  drawSeries(tealPoints[i], TEAL)
  drawSeries(orangePoints[i], ORANGE)

  const drawFit = (fit, colour) => {
    g.append("path").datum(fit)
      .attr("d", d3.area().x(d => x(d[0])).y0(d => y(d[2])).y1(d => y(d[3])))
      .attr("fill", colour)
      .attr("fill-opacity", .09)
    g.append("path").datum(fit)
      .attr("d", d3.line().x(d => x(d[0])).y(d => y(d[1])))
      .attr("fill", "none")
      .attr("stroke", colour)
      .attr("stroke-width", 1.6)
  }
  drawFit(tealFits[i], TEAL)
  drawFit(orangeFits[i], ORANGE)

  const xAxis = g.append("g")
    .attr("transform", `translate(0,${p.b})`)
    .call(d3.axisBottom(x).tickValues(xTicks).tickFormat(d3.format(decimals)).tickSize(3).tickSizeOuter(0).tickPadding(2))
  const yAxis = g.append("g")
    .attr("transform", `translate(${p.l},0)`)
    .call(d3.axisLeft(y).tickValues(yTicks).tickFormat(d3.format(yDecimals)).tickSize(3).tickSizeOuter(0).tickPadding(2))
  xAxis.select(".domain").attr("stroke", p.axis).attr("stroke-width", 1.6)
  yAxis.select(".domain").attr("stroke", p.axis).attr("stroke-width", 1.6)

  const drawStat = (value, colour, box, w) => {
    g.append("rect")
      .attr("x", p.boxL).attr("y", box[0])
      .attr("width", w).attr("height", box[1])
      .attr("rx", 3)
      .attr("fill", "#fff")
      .attr("stroke", colour)
      .attr("stroke-opacity", .85)
    const t = g.append("text")
      .attr("x", p.boxL + 5.5)
      .attr("y", box[0] + box[1] / 2 + 2.5)
      .attr("fill", colour)
      .style("font-family", '"Liberation Sans", sans-serif')
      .style("font-size", "16.4px")
      .attr("xml:space", "preserve")
    t.append("tspan").text(`τ = ${value} `)
    t.append("tspan").style("font-style", "italic").text("p")
    t.append("tspan").text(" < 1e-04")
  }
  drawStat(tealStats[i], TEAL, p.teal, p.boxW)
  drawStat(orangeStats[i], ORANGE, p.orange, p.orangeW || p.boxW)

  svg.append("text")
    .attr("x", (p.l + p.r) / 2)
    .attr("y", p.titleY)
    .attr("text-anchor", "middle")
    .attr("fill", "#1a1a1a")
    .style("font-family", '"Liberation Serif", serif')
    .style("font-size", "34px")
    .text(name)
})

svg.append("text")
  .attr("transform", "translate(32,592) rotate(-90)")
  .attr("text-anchor", "middle")
  .style("font-family", '"Liberation Serif", serif')
  .style("font-size", "27px")
  .attr("fill", "#111")
  .text("Census (interpolation)")

svg.append("text")
  .attr("x", 650)
  .attr("y", 1187)
  .attr("text-anchor", "middle")
  .style("font-family", '"Liberation Serif", serif')
  .style("font-size", "27px")
  .attr("fill", "#111")
  .text("CDR")
</script>
</body>
</html>
